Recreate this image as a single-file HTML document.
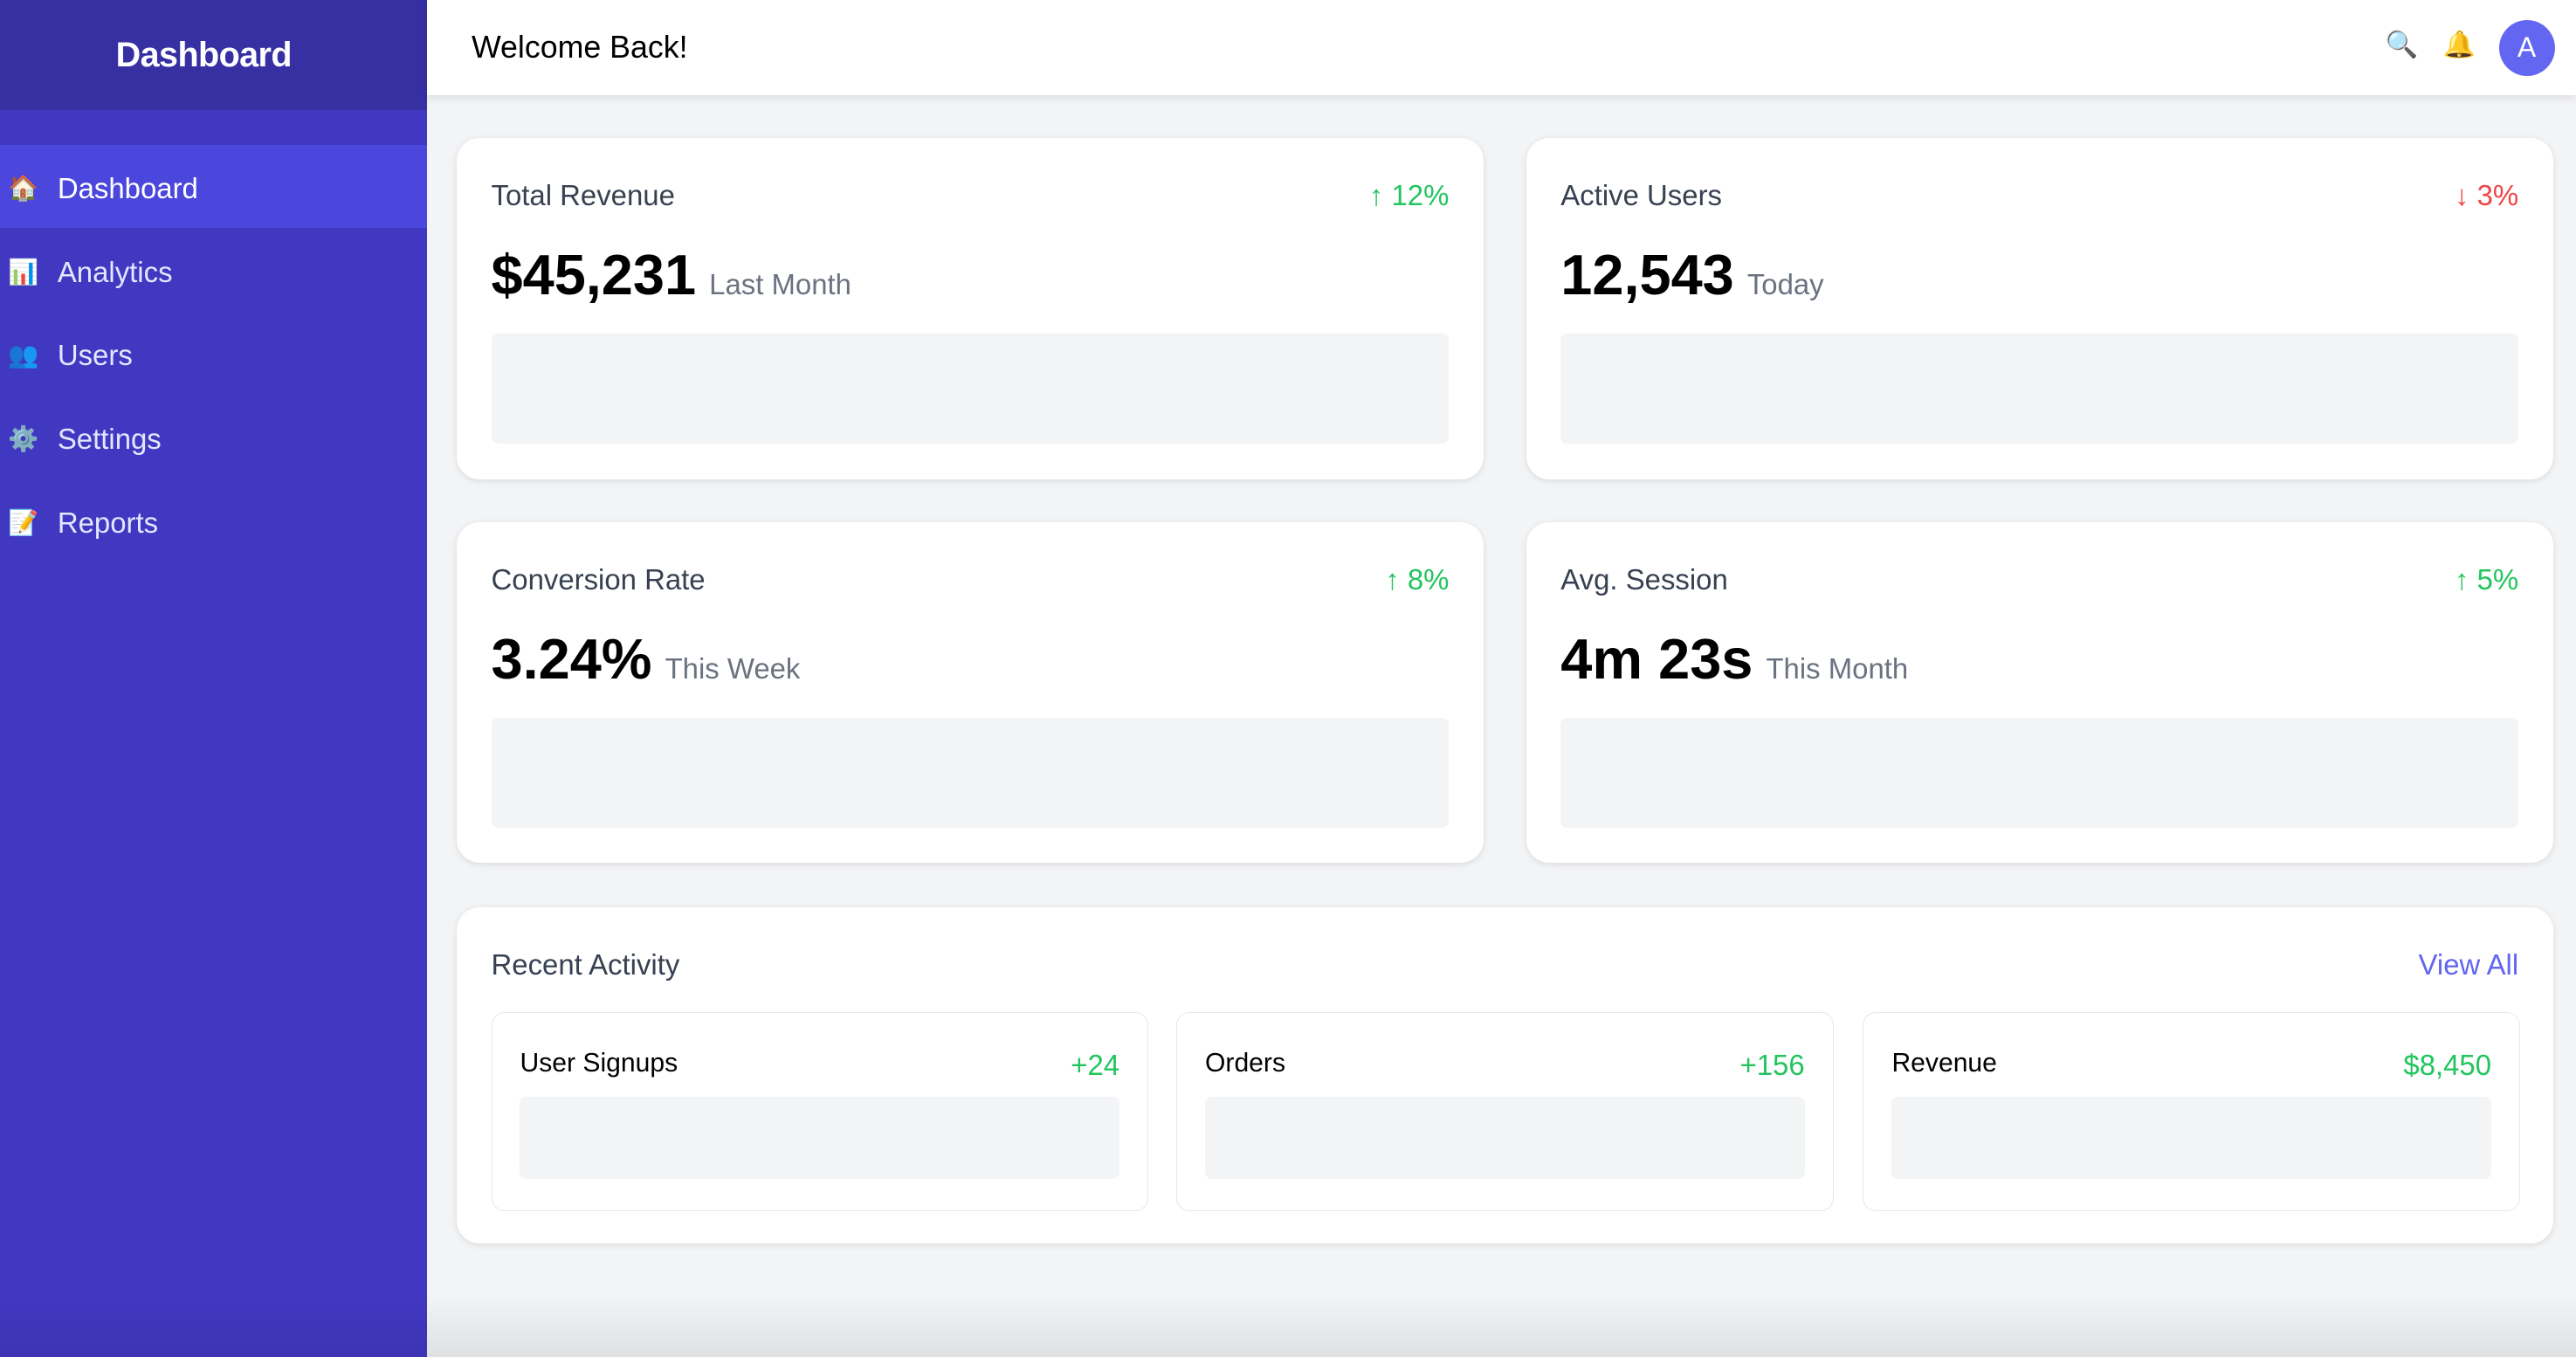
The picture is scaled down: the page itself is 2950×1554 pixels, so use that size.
<!DOCTYPE html>
<html><head><meta charset="utf-8"><style>
html,body{margin:0;padding:0;width:2950px;height:1554px;overflow:hidden;background:#f3f4f6}
#w{zoom:1.88138;width:1568px;height:826px;position:relative;font-family:"Liberation Sans",Arial,sans-serif;background:#f3f4f6;overflow:hidden}
.sb{position:absolute;left:0;top:0;width:260px;height:826px;background:#4138c2}
.sbh{height:67px;background:#3730a3;color:#fff;font-weight:bold;font-size:21px;text-align:center;line-height:67px;letter-spacing:-0.3px;padding-right:12px}
.it{position:absolute;left:0;width:260px;height:51px;line-height:53px;color:#e0e7ff;font-size:17.5px}
.it .ic{position:absolute;left:5px;font-size:15px}
.it .t{position:absolute;left:35px}
.act{background:#4b46dc;color:#fff}
.top{position:absolute;left:260px;top:0;right:0;height:58px;background:#fff;box-shadow:0 2px 5px rgba(0,0,0,.1)}
.top .h{position:absolute;left:27px;top:18px;font-size:19px;color:#000}
.av{position:absolute;left:1261px;top:12px;width:34px;height:34px;border-radius:50%;background:#6366f1;color:#fff;text-align:center;line-height:34px;font-size:17px}
.card{position:absolute;background:#fff;border-radius:14px;box-shadow:0 1px 4px rgba(0,0,0,.1)}
.ct{position:absolute;left:21px;top:25px;font-size:17.5px;color:#374151}
.ch{position:absolute;right:21px;top:25px;font-size:17.5px}
.g{color:#22c55e}.r{color:#ef4444}
.cv{position:absolute;left:21px;top:63px;font-size:34.5px;font-weight:bold;color:#000;white-space:nowrap}
.cv span{font-size:17.5px;font-weight:normal;color:#6b7280;margin-left:8px}
.box{position:absolute;left:21px;right:21px;top:119px;height:67px;background:#f3f4f6;border-radius:4px}
.sub{position:absolute;top:64px;width:400px;height:121px;border:1px solid #e5e7eb;border-radius:8px;box-sizing:border-box}
.sub .l{position:absolute;left:17px;top:22px;font-size:16px;color:#000}
.sub .v{position:absolute;right:17px;top:22px;font-size:17.5px;color:#22c55e}
.sub .b{position:absolute;left:17px;right:17px;top:51px;height:50px;background:#f3f4f6;border-radius:4px}
.bot{position:absolute;left:0;right:0;bottom:0;height:40px;background:linear-gradient(rgba(0,0,0,0),rgba(0,0,0,.08))}
</style></head><body><div id="w">
<div class="sb"><div class="sbh">Dashboard</div>
<div class="it act" style="top:88px"><span class="ic">🏠</span><span class="t">Dashboard</span></div>
<div class="it" style="top:139px"><span class="ic">📊</span><span class="t">Analytics</span></div>
<div class="it" style="top:190px"><span class="ic">👥</span><span class="t">Users</span></div>
<div class="it" style="top:241px"><span class="ic">⚙️</span><span class="t">Settings</span></div>
<div class="it" style="top:292px"><span class="ic">📝</span><span class="t">Reports</span></div>
</div>
<div class="top"><div class="h">Welcome Back!</div>
<div style="position:absolute;left:1192px;top:18px;font-size:16px">🔍</div>
<div style="position:absolute;left:1227px;top:18px;font-size:16px">🔔</div>
<div class="av">A</div></div>

<div class="card" style="left:278px;top:84px;width:625px;height:208px"><div class="ct">Total Revenue</div><div class="ch g">↑ 12%</div><div class="cv">$45,231<span>Last Month</span></div><div class="box"></div></div>
<div class="card" style="left:929px;top:84px;width:625px;height:208px"><div class="ct">Active Users</div><div class="ch r">↓ 3%</div><div class="cv">12,543<span>Today</span></div><div class="box"></div></div>
<div class="card" style="left:278px;top:318px;width:625px;height:207px"><div class="ct">Conversion Rate</div><div class="ch g">↑ 8%</div><div class="cv">3.24%<span>This Week</span></div><div class="box"></div></div>
<div class="card" style="left:929px;top:318px;width:625px;height:207px"><div class="ct">Avg. Session</div><div class="ch g">↑ 5%</div><div class="cv">4m 23s<span>This Month</span></div><div class="box"></div></div>

<div class="card" style="left:278px;top:552px;width:1276px;height:205px"><div class="ct">Recent Activity</div><div class="ch" style="color:#6366f1">View All</div>
<div class="sub" style="left:21px"><div class="l">User Signups</div><div class="v">+24</div><div class="b"></div></div>
<div class="sub" style="left:438px"><div class="l">Orders</div><div class="v">+156</div><div class="b"></div></div>
<div class="sub" style="left:856px"><div class="l">Revenue</div><div class="v">$8,450</div><div class="b"></div></div>
</div>
<div class="bot"></div>
</div></body></html>
